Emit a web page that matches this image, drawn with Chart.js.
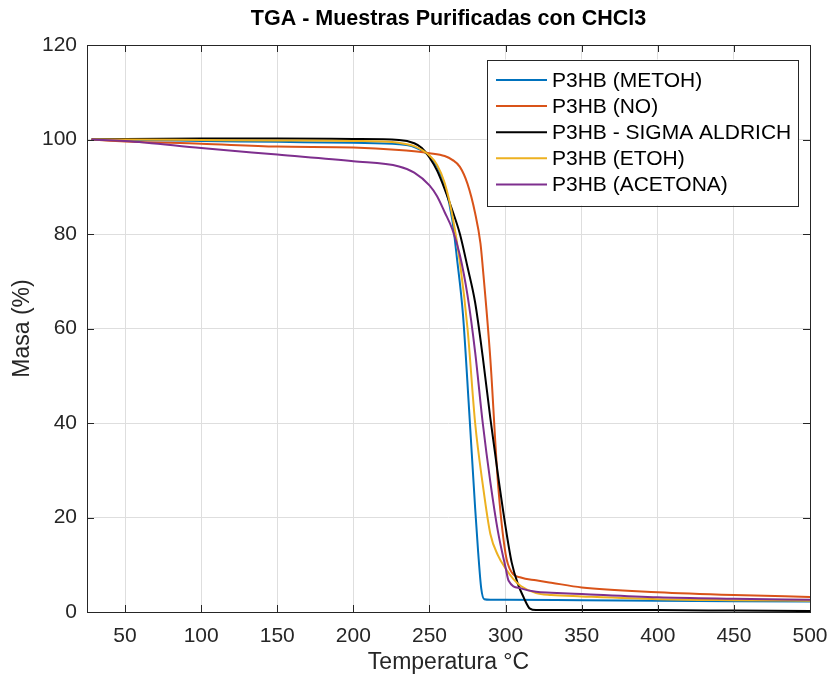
<!DOCTYPE html>
<html>
<head>
<meta charset="utf-8">
<script src="https://cdn.jsdelivr.net/npm/chart.js@4.4.1/dist/chart.umd.min.js"></script>
<style>
  html, body { margin: 0; padding: 0; background: #fff; }
  #wrap { width: 834px; height: 685px; }
</style>
</head>
<body>
<div id="wrap"><canvas id="graph" width="834" height="685"></canvas></div>
<script>
// Datos (temperatura en °C, masa en %)
var xTicks = [50, 100, 150, 200, 250, 300, 350, 400, 450, 500];
var yTicks = [0, 20, 40, 60, 80, 100, 120];

var metohTemp = [28, 50, 100, 150, 200, 230, 240, 250, 255, 260, 265, 268, 272, 276, 280, 282, 284, 286, 290, 300, 350, 400, 450, 500];
var metohMass = [100, 99.9, 99.7, 99.5, 99.3, 99.0, 98.4, 96.5, 94.3, 90.3, 83, 75, 63, 43, 22, 12.6, 5, 2.7, 2.6, 2.6, 2.5, 2.4, 2.3, 2.2];

var noTemp = [28, 50, 100, 150, 200, 230, 240, 250, 260, 265, 270, 275, 280, 283.5, 285, 290, 295, 300, 304, 310, 320, 330, 350, 400, 450, 500];
var noMass = [100, 99.6, 99.1, 98.5, 98.3, 97.8, 97.5, 97.1, 96.5, 95.7, 94.2, 90.6, 84.4, 78, 73, 53.5, 27.3, 12.3, 8.4, 7.3, 6.7, 6.2, 5.2, 4.2, 3.6, 3.2];

var sigmaTemp = [28, 50, 100, 150, 200, 230, 240, 245, 250, 255, 260, 265, 270, 275, 280, 285, 290, 295, 300, 304, 308, 312, 316, 320, 350, 400, 450, 500];
var sigmaMass = [100, 100.1, 100.2, 100.2, 100.1, 99.9, 99.2, 98.2, 96.2, 93.4, 89.5, 85, 80, 73, 65.5, 54, 41, 29, 18, 10.5, 6, 3, 0.7, 0.4, 0.4, 0.4, 0.3, 0.2];

var etohTemp = [28, 50, 100, 150, 200, 230, 240, 250, 255, 260, 265, 270, 275, 280, 285, 290, 295, 300, 305, 310, 320, 330, 350, 400, 450, 500];
var etohMass = [100, 100, 99.9, 99.8, 99.7, 99.3, 98.6, 96.6, 94.6, 90.8, 84, 74, 60, 40, 27, 16.5, 12, 9.2, 7, 5.5, 4.0, 3.6, 3.3, 2.7, 2.5, 2.4];

var acetonaTemp = [28, 50, 100, 150, 200, 230, 240, 250, 255, 260, 265, 270, 275, 280, 285, 290, 295, 300, 302, 310, 320, 330, 350, 400, 450, 500];
var acetonaMass = [100, 99.7, 98.2, 96.8, 95.4, 94.3, 93.0, 90.3, 88.0, 84.6, 81, 75.5, 67, 55, 40, 27.5, 17, 9.4, 6.6, 5.0, 4.3, 4.1, 3.8, 3.1, 2.8, 2.6];

var seriesNames = ['P3HB (METOH)', 'P3HB (NO)', 'P3HB - SIGMA ALDRICH', 'P3HB (ETOH)', 'P3HB (ACETONA)'];
var seriesColors = ['#0072BD', '#D95319', '#000000', '#EDB120', '#7E2F8E'];
var seriesTemps = [metohTemp, noTemp, sigmaTemp, etohTemp, acetonaTemp];
var seriesMasses = [metohMass, noMass, sigmaMass, etohMass, acetonaMass];

var FONT = '"Liberation Sans", Arial, Helvetica, sans-serif';
var AXIS_COLOR = '#262626';

function toPoints(t, m) {
    var pts = [];
    for (var i = 0; i < t.length; i++) pts.push({ x: t[i], y: m[i] });
    return pts;
}

var datasets = seriesNames.map(function (name, i) {
    return {
        label: name,
        data: toPoints(seriesTemps[i], seriesMasses[i]),
        borderColor: seriesColors[i],
        backgroundColor: 'transparent',
        borderWidth: 2,
        pointRadius: 0,
        cubicInterpolationMode: 'monotone',
        order: seriesNames.length - i
    };
});

// Marco tipo MATLAB: caja completa con marcas hacia dentro
var boxPlugin = {
    id: 'boxFrame',
    afterDatasetsDraw: function (chart) {
        var ctx = chart.ctx, a = chart.chartArea;
        var xs = chart.scales.x, ys = chart.scales.y;
        var tl = 7;
        ctx.save();
        ctx.strokeStyle = AXIS_COLOR;
        ctx.lineWidth = 1;
        ctx.beginPath();
        xs.ticks.forEach(function (t) {
            var px = Math.round(xs.getPixelForValue(t.value)) + 0.5;
            ctx.moveTo(px, a.bottom); ctx.lineTo(px, a.bottom - tl);
            ctx.moveTo(px, a.top); ctx.lineTo(px, a.top + tl);
        });
        ys.ticks.forEach(function (t) {
            var py = Math.round(ys.getPixelForValue(t.value)) + 0.5;
            ctx.moveTo(a.left, py); ctx.lineTo(a.left + tl, py);
            ctx.moveTo(a.right, py); ctx.lineTo(a.right - tl, py);
        });
        ctx.stroke();
        ctx.strokeRect(Math.round(a.left) + 0.5, Math.round(a.top) + 0.5,
                       Math.round(a.right - a.left), Math.round(a.bottom - a.top));
        ctx.restore();
    }
};

// Leyenda dentro del área del gráfico (esquina superior derecha)
var legendPlugin = {
    id: 'insideLegend',
    afterDraw: function (chart) {
        var ctx = chart.ctx, a = chart.chartArea;
        var w = 311, h = 146, rowH = 26.1;
        var x0 = a.right - 12 - w, y0 = a.top + 14.5;
        ctx.save();
        ctx.fillStyle = '#ffffff';
        ctx.fillRect(x0, y0, w, h);
        ctx.strokeStyle = AXIS_COLOR;
        ctx.lineWidth = 1;
        ctx.strokeRect(Math.round(x0) + 0.5, Math.round(y0) + 0.5, w, h);
        ctx.font = '21px ' + FONT;
        ctx.textBaseline = 'middle';
        ctx.textAlign = 'left';
        chart.data.datasets.forEach(function (ds, i) {
            var cy = y0 + 20.5 + i * rowH;
            ctx.strokeStyle = ds.borderColor;
            ctx.lineWidth = 2;
            ctx.beginPath();
            ctx.moveTo(x0 + 9, cy);
            ctx.lineTo(x0 + 60, cy);
            ctx.stroke();
            ctx.fillStyle = '#000000';
            ctx.fillText(ds.label, x0 + 65, cy + 1);
        });
        ctx.restore();
    }
};

var ctx = document.getElementById('graph').getContext('2d');
var chart = new Chart(ctx, {
    type: 'line',
    data: { datasets: datasets },
    plugins: [boxPlugin, legendPlugin],
    options: {
        responsive: false,
        animation: false,
        layout: { padding: { left: 0, right: 24, top: 0, bottom: 0 } },
        plugins: {
            legend: { display: false },
            tooltip: { enabled: false },
            title: {
                display: true,
                text: 'TGA - Muestras Purificadas con CHCl3',
                fullSize: false,
                color: '#000000',
                font: { family: FONT, size: 21.5, weight: 'bold', lineHeight: 1.2 },
                padding: { top: 6, bottom: 13.2 }
            }
        },
        scales: {
            x: {
                type: 'linear',
                position: 'bottom',
                min: 25,
                max: 500,
                afterBuildTicks: function (s) { s.ticks = xTicks.map(function (v) { return { value: v }; }); },
                afterFit: function (s) { s.height = 73; s.paddingLeft = 0; s.paddingRight = 0; },
                ticks: { color: AXIS_COLOR, padding: 12, maxRotation: 0, autoSkip: false, font: { family: FONT, size: 21 } },
                grid: { color: '#dedede', drawTicks: false },
                border: { display: false },
                title: {
                    display: true,
                    text: 'Temperatura °C',
                    color: AXIS_COLOR,
                    font: { family: FONT, size: 23, lineHeight: 1.2 },
                    padding: { top: 0, bottom: 9 }
                }
            },
            y: {
                type: 'linear',
                min: 0,
                max: 120,
                afterBuildTicks: function (s) { s.ticks = yTicks.map(function (v) { return { value: v }; }); },
                afterFit: function (s) { s.width = 87; s.paddingTop = 0; s.paddingBottom = 0; },
                ticks: { color: AXIS_COLOR, padding: 10, font: { family: FONT, size: 21 } },
                grid: { color: '#dedede', drawTicks: false },
                border: { display: false },
                title: {
                    display: true,
                    text: 'Masa (%)',
                    color: AXIS_COLOR,
                    font: { family: FONT, size: 23, lineHeight: 1.2 },
                    padding: { top: 9, bottom: 0 }
                }
            }
        }
    }
});
</script>
</body>
</html>
